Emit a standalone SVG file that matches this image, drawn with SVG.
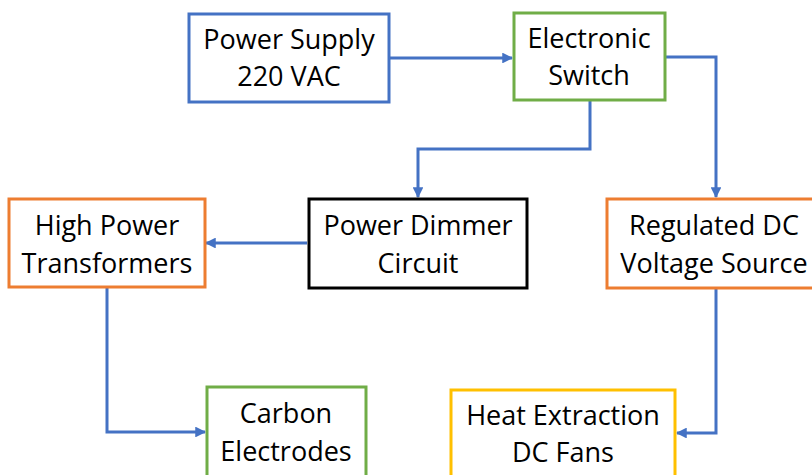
<svg xmlns="http://www.w3.org/2000/svg" width="812" height="475" viewBox="0 0 812 475">
<defs>
<style>
.box{fill:#fff;stroke-width:3}
.blue{stroke:#4472C4}.green{stroke:#70AD47}.orange{stroke:#ED7D31}.yellow{stroke:#FFC000}.black{stroke:#000}
text{font-family:"Open Sans","Liberation Sans",sans-serif;font-size:27px;fill:#000;text-anchor:middle}
.c{fill:none;stroke:#4472C4;stroke-width:3;marker-end:url(#ah)}
</style>
<marker id="ah" viewBox="0 0 10 10" refX="9" refY="5" markerWidth="3.6" markerHeight="3.6" orient="auto" markerUnits="strokeWidth">
<path d="M0,0 L10,5 L0,10 z" fill="#4472C4"/>
</marker>
</defs>
<rect width="812" height="475" fill="#fff"/>
<g id="connectors">
<path class="c" d="M389,58 L512,58"/>
<path class="c" d="M590,100 L590,149 L418,149 L418,197"/>
<path class="c" d="M665,57 L716,57 L716,197"/>
<path class="c" d="M307,243 L206,243"/>
<path class="c" d="M107,288 L107,432 L205,432"/>
<path class="c" d="M716,288 L716,433 L677,433"/>
</g>
<g id="power-supply">
<rect class="box blue" x="189" y="14" width="200" height="88"/>
<text x="289" y="49">Power Supply</text>
<text x="289" y="86">220 VAC</text>
</g>
<g id="electronic-switch">
<rect class="box green" x="514" y="13" width="151" height="87"/>
<text x="589" y="48">Electronic</text>
<text x="589" y="85">Switch</text>
</g>
<g id="high-power-transformers">
<rect class="box orange" x="9" y="199" width="196" height="88"/>
<text x="107" y="235">High Power</text>
<text x="107" y="273">Transformers</text>
</g>
<g id="power-dimmer">
<rect class="box black" x="309" y="199" width="218" height="89"/>
<text x="418" y="235">Power Dimmer</text>
<text x="418" y="273">Circuit</text>
</g>
<g id="regulated-dc">
<rect class="box orange" x="607" y="199" width="220" height="89"/>
<text x="714" y="235">Regulated DC</text>
<text x="714" y="273">Voltage Source</text>
</g>
<g id="carbon-electrodes">
<rect class="box green" x="207" y="387" width="159" height="100"/>
<text x="286" y="423">Carbon</text>
<text x="286" y="461">Electrodes</text>
</g>
<g id="heat-extraction">
<rect class="box yellow" x="451" y="390" width="224" height="100"/>
<text x="563" y="425">Heat Extraction</text>
<text x="563" y="462">DC Fans</text>
</g>
</svg>
